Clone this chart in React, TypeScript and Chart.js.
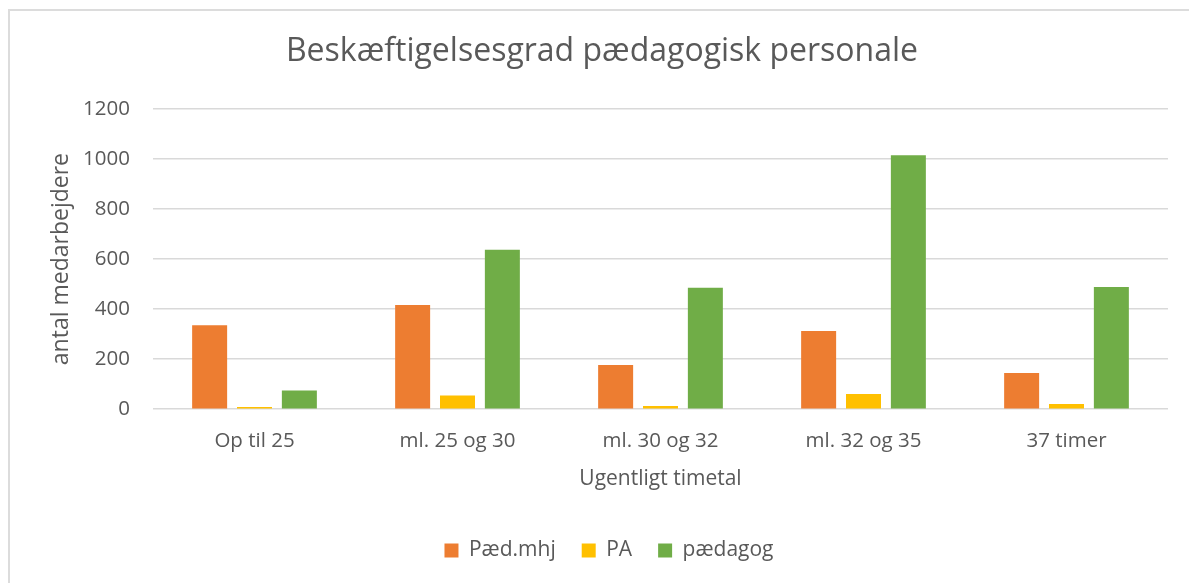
import React, { useEffect, useRef } from "react";
import { Chart, registerables } from "chart.js";

Chart.register(...registerables);

const categories = ["Op til 25", "ml. 25 og 30", "ml. 30 og 32", "ml. 32 og 35", "37 timer"];
const paedMhj = [336, 417, 177, 313, 145];
const pa = [9, 55, 13, 61, 21];
const paedagog = [75, 637, 485, 1015, 488];
const yTicks = [0, 200, 400, 600, 800, 1000, 1200];

const TEXT = "#595959";
const GRID = "#D9D9D9";
const FONT = "'Open Sans', sans-serif";

const framePlugin = {
  id: "frame",
  afterLayout(chart: any) {
    if (chart.titleBlock) {
      chart.titleBlock.left += 18;
      chart.titleBlock.right += 18;
    }
    if (chart.legend) {
      chart.legend.left += 25;
      chart.legend.right += 25;
    }
  },
  beforeDraw(chart: any) {
    const { ctx, width, height } = chart;
    ctx.save();
    ctx.fillStyle = "#ffffff";
    ctx.fillRect(0, 0, width, height);
    ctx.fillStyle = "#DCDCDC";
    ctx.fillRect(8, 9, 2, height - 9);
    ctx.fillRect(8, 9, width - 8, 2);
    ctx.restore();
  },
};

export default function App() {
  const ref = useRef<HTMLCanvasElement | null>(null);

  useEffect(() => {
    if (!ref.current) return;
    const chart = new Chart(ref.current, {
      type: "bar",
      data: {
        labels: categories,
        datasets: [
          { label: "Pæd.mhj", data: paedMhj, backgroundColor: "#ED7D31" },
          { label: "PA", data: pa, backgroundColor: "#FFC000" },
          { label: "pædagog", data: paedagog, backgroundColor: "#70AD47" },
        ],
      },
      options: {
        responsive: false,
        animation: false,
        layout: { padding: { left: 0, right: 21, top: 0, bottom: 12 } },
        datasets: {
          bar: { categoryPercentage: 0.663, barPercentage: 0.78 },
        },
        plugins: {
          title: {
            display: true,
            text: "Beskæftigelsesgrad pædagogisk personale",
            color: TEXT,
            font: { family: FONT, size: 32, weight: "normal" },
            padding: { top: 33, bottom: 37.6 },
          },
          legend: {
            position: "bottom",
            labels: {
              color: TEXT,
              font: { family: FONT, size: 21 },
              boxWidth: 14,
              boxHeight: 14,
              padding: 26,
            },
          },
          tooltip: { enabled: false },
        },
        scales: {
          x: {
            grid: { display: false, drawTicks: false },
            border: { display: false },
            ticks: {
              color: TEXT,
              font: { family: FONT, size: 20.5 },
              padding: 20,
              maxRotation: 0,
            },
            title: {
              display: true,
              text: "Ugentligt timetal",
              color: TEXT,
              font: { family: FONT, size: 21 },
              padding: { top: -7, bottom: 22 },
            },
          },
          y: {
            min: 0,
            max: 1200,
            afterBuildTicks(scale: any) {
              scale.ticks = yTicks.map((v) => ({ value: v }));
            },
            afterFit(scale: any) {
              scale.width = 153;
            },
            grid: { color: GRID, lineWidth: 1.5, drawTicks: false },
            border: { display: false },
            ticks: {
              color: TEXT,
              font: { family: FONT, size: 20.5 },
              padding: 23,
              callback: (v: any) => String(v),
            },
            title: {
              display: true,
              text: "antal medarbejdere",
              color: TEXT,
              font: { family: FONT, size: 23 },
              padding: { top: 48, bottom: 0 },
            },
          },
        },
      },
      plugins: [framePlugin],
    });
    return () => chart.destroy();
  }, []);

  return (
    <div style={{ position: "absolute", left: 0, top: 0, width: 1189, height: 583 }}>
      <canvas ref={ref} width={1189} height={583} style={{ display: "block" }} />
    </div>
  );
}
